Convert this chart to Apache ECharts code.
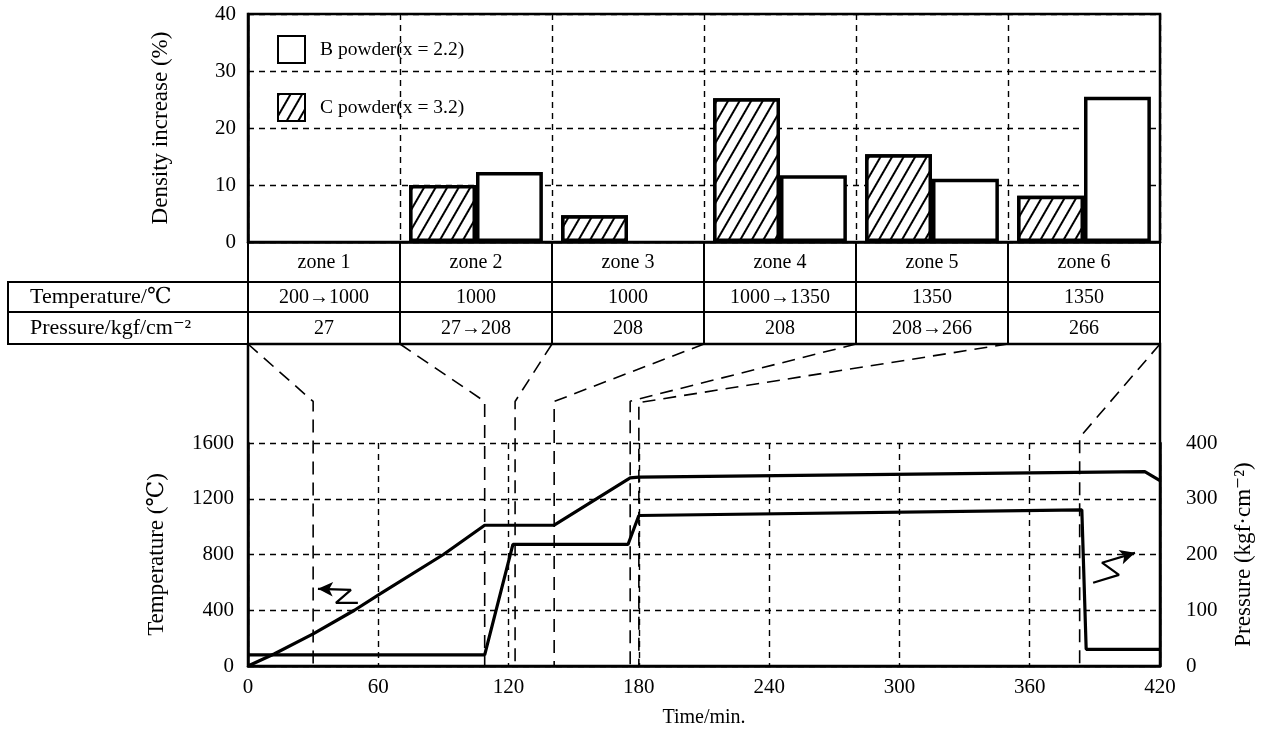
<!DOCTYPE html>
<html>
<head>
<meta charset="utf-8">
<script src="https://cdn.jsdelivr.net/npm/echarts@6/dist/echarts.min.js"></script>
<style>
  html, body { margin: 0; background: #fff; }
  #main { width: 1261px; height: 735px; }
</style>
</head>
<body>
<div id="main"></div>
<script>
// table / zones
const zones = ['zone 1', 'zone 2', 'zone 3', 'zone 4', 'zone 5', 'zone 6'];
const tempRow = ['200→1000', '1000', '1000', '1000→1350', '1350', '1350'];
const pressRow = ['27', '27→208', '208', '208', '208→266', '266'];

// density increase (%)
const powderB = [null, 12.3, null, 11.7, 11.1, 25.5];
const powderC = [null, 10, 4.7, 25.2, 15.4, 8.1];

// process curves [min, value]
const tempCurve = [[0, 0], [12, 86], [30, 230], [49, 400], [61, 519], [90, 800], [109, 1010], [141, 1010],
  [176, 1350], [180, 1355], [413, 1395], [420, 1330]];
const pressCurve = [[0, 20], [109, 20], [122, 218], [175, 218], [180, 270], [384, 280], [386, 30], [420, 30]];

// dashed links from table zone edges down to the time axis
const zoneEdges = [0, 70, 140, 210, 280, 350, 420];
const linkTimes = [30, 109, 123, 141, 176, 180, 383];
const linkKnees = [1898, 1898, 1898, 1898, 1900, 1890, 1640];

// little zigzag arrows telling which axis a curve belongs to (min, °C)
const tempArrow = [[50.6, 453], [40.5, 453], [47.4, 546], [32.2, 554]];
const pressArrow = [[389.2, 597], [401.1, 654], [393.3, 741], [408.5, 812]];

const FONT = "'Liberation Serif', 'DejaVu Serif', 'Noto Sans CJK JP', serif";
const FS = 21;
const BLACK = '#000';

// layout
const L = 248, R = 101;
const topTop = 14, topH = 228;
const rowH = [40, 30, 32];
const linkTop = topTop + topH + rowH[0] + rowH[1] + rowH[2]; // 344
const plotBottom = 69;
const plotTop = 443;
const linkH = 735 - plotBottom - linkTop;
const plotH = 735 - plotBottom - plotTop;
const linkMax = 1600 * linkH / plotH;
const pxPerMin = (1261 - L - R) / 420;
const pxPerDeg = plotH / 1600;

const dashGrid = { type: [6, 5], color: BLACK, width: 1.4 };
const label = { color: BLACK, fontFamily: FONT, fontSize: FS };
const tableLabel = { color: BLACK, fontFamily: FONT, fontSize: 20 };
const nameStyle = { color: BLACK, fontFamily: FONT, fontSize: 23 };
const plain = v => String(v);

const tableAxis = (data, offset, len, margin) => ({
  gridIndex: 0, type: 'category', data: data, position: 'bottom', offset: offset,
  axisLine: { lineStyle: { color: BLACK, width: 2 } },
  axisTick: { show: true, interval: 0, length: len, lineStyle: { color: BLACK, width: 2 } },
  axisLabel: Object.assign({ interval: 0, margin: margin }, tableLabel),
  splitLine: { show: false }
});

const chart = echarts.init(document.getElementById('main'));

const linkSeries = zoneEdges.map((z, i) => ({
  type: 'line', xAxisIndex: 3, yAxisIndex: 1, symbol: 'none', silent: true,
  data: [[z, linkMax], [linkTimes[i], linkKnees[i]], [linkTimes[i], 0]],
  lineStyle: { color: BLACK, width: 1.6, type: [13, 8] }
}));

const arrowSeries = [tempArrow, pressArrow].map(pts => {
  const a = pts[pts.length - 2], b = pts[pts.length - 1];
  const dx = (b[0] - a[0]) * pxPerMin, dy = (b[1] - a[1]) * pxPerDeg;
  const rot = Math.atan2(-dx, dy) * 180 / Math.PI;
  return {
    type: 'line', xAxisIndex: 4, yAxisIndex: 2, symbol: 'none', silent: true,
    data: pts.map((p, i) => i === pts.length - 1
      ? { value: p, symbol: 'arrow', symbolSize: [11, 15], symbolRotate: rot, itemStyle: { color: BLACK } }
      : { value: p }),
    lineStyle: { color: BLACK, width: 2.2 }
  };
});

chart.setOption({
  animation: false,
  backgroundColor: '#fff',
  textStyle: { fontFamily: FONT },
  legend: {
    data: ['B powder(x = 2.2)', 'C powder(x = 3.2)'],
    orient: 'vertical', left: 272, top: 30, icon: 'rect',
    itemWidth: 27, itemHeight: 27, itemGap: 29,
    textStyle: { color: BLACK, fontFamily: FONT, fontSize: 19.5, padding: [0, 0, 0, 10] }
  },
  grid: [
    { left: L, right: R, top: topTop, height: topH, show: true, borderColor: BLACK, borderWidth: 2.5, outerBoundsMode: 'none' },
    { left: L, right: R, top: linkTop, height: linkH, show: true, borderColor: BLACK, borderWidth: 2.5, outerBoundsMode: 'none' },
    { left: L, right: R, top: plotTop, height: plotH, outerBoundsMode: 'none' }
  ],
  xAxis: [
    {
      gridIndex: 0, type: 'category', data: zones,
      axisLine: { lineStyle: { color: BLACK, width: 2.5 } },
      axisTick: { show: true, interval: 0, length: rowH[0], lineStyle: { color: BLACK, width: 2 } },
      axisLabel: Object.assign({ interval: 0, margin: 11 }, tableLabel),
      splitLine: { show: true, interval: 0, lineStyle: dashGrid }
    },
    tableAxis(tempRow, rowH[0], rowH[1], 6),
    tableAxis(pressRow, rowH[0] + rowH[1], rowH[2], 7),
    { gridIndex: 1, type: 'value', min: 0, max: 420, show: false },
    {
      gridIndex: 2, type: 'value', min: 0, max: 420, interval: 60,
      name: 'Time/min.', nameLocation: 'middle', nameGap: 42,
      nameTextStyle: { color: BLACK, fontFamily: FONT, fontSize: 20 },
      axisLine: { lineStyle: { color: BLACK, width: 2.5 } },
      axisTick: { show: false },
      axisLabel: Object.assign({ margin: 11, formatter: plain }, label),
      splitLine: { show: true, lineStyle: dashGrid }
    }
  ],
  yAxis: [
    {
      gridIndex: 0, type: 'value', min: 0, max: 40, interval: 10,
      name: 'Density increase (%)', nameLocation: 'middle', nameGap: 76, nameRotate: 90,
      nameTextStyle: nameStyle,
      axisLine: { show: true, lineStyle: { color: BLACK, width: 2.5 } },
      axisTick: { show: false },
      axisLabel: Object.assign({ margin: 12, formatter: plain }, label),
      splitLine: { show: true, lineStyle: dashGrid }
    },
    { gridIndex: 1, type: 'value', min: 0, max: linkMax, show: false },
    {
      gridIndex: 2, type: 'value', min: 0, max: 1600, interval: 400,
      name: 'Temperature (℃)', nameLocation: 'middle', nameGap: 80, nameRotate: 90,
      nameTextStyle: nameStyle,
      axisLine: { show: true, lineStyle: { color: BLACK, width: 2.5 } },
      axisTick: { show: false },
      axisLabel: Object.assign({ margin: 14, formatter: plain }, label),
      splitLine: { show: true, lineStyle: dashGrid }
    },
    {
      gridIndex: 2, type: 'value', min: 0, max: 400, interval: 100, position: 'right',
      name: 'Pressure (kgf·cm⁻²)', nameLocation: 'middle', nameGap: 72, nameRotate: 90,
      nameTextStyle: nameStyle,
      axisLine: { show: true, lineStyle: { color: BLACK, width: 2.5 } },
      axisTick: { show: false },
      axisLabel: Object.assign({ margin: 26, formatter: plain }, label),
      splitLine: { show: false }
    }
  ],
  graphic: [
    {
      type: 'rect', silent: true,
      shape: { x: 8, y: topTop + topH + rowH[0], width: L - 8, height: rowH[1] + rowH[2] },
      style: { fill: 'none', stroke: BLACK, lineWidth: 2 }
    },
    {
      type: 'line', silent: true,
      shape: { x1: 8, y1: topTop + topH + rowH[0] + rowH[1], x2: L, y2: topTop + topH + rowH[0] + rowH[1] },
      style: { stroke: BLACK, lineWidth: 2 }
    },
    {
      type: 'text', silent: true, x: 30, y: topTop + topH + rowH[0] + rowH[1] / 2,
      style: { text: 'Temperature/℃', font: '22px ' + FONT, fill: BLACK, verticalAlign: 'middle' }
    },
    {
      type: 'text', silent: true, x: 30, y: topTop + topH + rowH[0] + rowH[1] + rowH[2] / 2,
      style: { text: 'Pressure/kgf/cm⁻²', font: '22px ' + FONT, fill: BLACK, verticalAlign: 'middle' }
    }
  ],
  series: [
    {
      name: 'C powder(x = 3.2)', type: 'bar', xAxisIndex: 0, yAxisIndex: 0,
      data: powderC, barWidth: '44%', barGap: '0%',
      itemStyle: {
        color: '#fff', borderColor: BLACK, borderWidth: 3.5,
        decal: {
          symbol: 'rect', symbolSize: 1, color: BLACK, backgroundColor: '#fff',
          dashArrayX: [1, 0], dashArrayY: [1.5, 7.5], rotation: -Math.PI / 3
        }
      }
    },
    {
      name: 'B powder(x = 2.2)', type: 'bar', xAxisIndex: 0, yAxisIndex: 0,
      data: powderB, barWidth: '44%', barGap: '0%',
      itemStyle: { color: '#fff', borderColor: BLACK, borderWidth: 3.5 }
    },
    {
      name: 'Temperature', type: 'line', xAxisIndex: 4, yAxisIndex: 2, symbol: 'none',
      data: tempCurve, lineStyle: { color: BLACK, width: 3.2 }, z: 5
    },
    {
      name: 'Pressure', type: 'line', xAxisIndex: 4, yAxisIndex: 3, symbol: 'none',
      data: pressCurve, lineStyle: { color: BLACK, width: 3.2 }, z: 5
    }
  ].concat(linkSeries, arrowSeries)
});
</script>
</body>
</html>
